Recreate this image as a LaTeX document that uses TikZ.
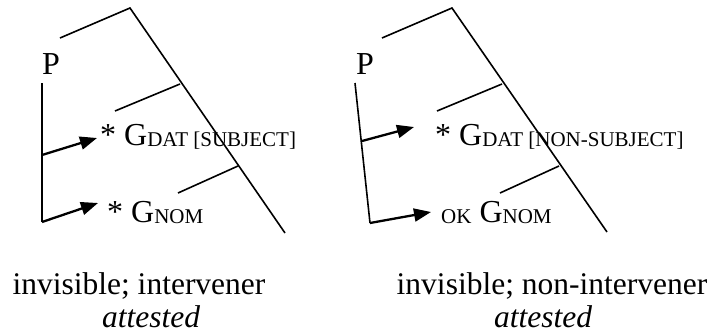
\documentclass[tikz,border=0pt]{standalone}
\usepackage{fontspec}
\setmainfont{Liberation Serif}
\usetikzlibrary{arrows.meta}
\begin{document}
\begin{tikzpicture}[x=1pt,y=-1pt,
  tree/.style={line width=1.6pt},
  probe/.style={line width=2.3pt,-{Triangle[length=17pt,width=13pt]}},
  lbl/.style={inner sep=0pt,font=\fontsize{32}{38}\selectfont},
  captext/.style={inner sep=0pt,anchor=base,font=\fontsize{31.5}{38}\selectfont}]
\newcommand{\subsc}[1]{\raisebox{-1.5pt}{\fontsize{21}{24}\selectfont #1}}
\useasboundingbox (0,0) rectangle (714,335);

% ---------- left tree ----------
\coordinate (La) at (130,8);
\coordinate (Ltop) at (60,38);
\coordinate (Lend) at (285,233);
\coordinate (Lm1) at (180,84);
\coordinate (Lm2) at (115,111);
\coordinate (Ll1) at (238,166);
\coordinate (Ll2) at (178,193);
\draw[tree] (Ltop) -- (La) -- (Lend);
\draw[tree] (Lm1) -- (Lm2);
\draw[tree] (Ll1) -- (Ll2);

\node[lbl,anchor=base west] (LP) at (42,74) {P};
\coordinate (Lv1) at (42,83);
\coordinate (Lv2) at (42,155);
\coordinate (Lv3) at (42,222);
\draw[tree] (Lv1) -- (Lv3);

\node[lbl,anchor=base west] (Ldat) at (100,145) {* G\subsc{DAT [SUBJECT]}};
\node[lbl,anchor=base west] (Lnom) at (107,222) {* G\subsc{NOM}};
\coordinate (Lt1) at (97,138);
\coordinate (Lt2) at (98,203);
\draw[probe] (Lv2) -- (Lt1);
\draw[probe] (Lv3) -- (Lt2);

\node[captext] (Lc1) at (139,294) {invisible; intervener};
\node[captext] (Lc2) at (151,327) {\itshape attested};

% ---------- right tree ----------
\coordinate (Ra) at (452,8);
\coordinate (Rtop) at (382,38);
\coordinate (Rend) at (607,232);
\coordinate (Rm1) at (502,84);
\coordinate (Rm2) at (437,111);
\coordinate (Rl1) at (559,166);
\coordinate (Rl2) at (500,193);
\draw[tree] (Rtop) -- (Ra) -- (Rend);
\draw[tree] (Rm1) -- (Rm2);
\draw[tree] (Rl1) -- (Rl2);

\node[lbl,anchor=base west] (RP) at (356,74) {P};
\coordinate (Rv1) at (355,83);
\coordinate (Rv2) at (362,141);
\coordinate (Rv3) at (370,223);
\draw[tree] (Rv1) -- (Rv3);

\node[lbl,anchor=base west] (Rdat) at (435,145) {* G\subsc{DAT [NON-SUBJECT]}};
\node[lbl,anchor=base west] (Rnom) at (441,222) {\subsc{OK} G\subsc{NOM}};
\coordinate (Rt1) at (414,127);
\coordinate (Rt2) at (431,212);
\draw[probe] (Rv2) -- (Rt1);
\draw[probe] (Rv3) -- (Rt2);

\node[captext] (Rc1) at (552,294) {invisible; non-intervener};
\node[captext] (Rc2) at (543,327) {\itshape attested};
\end{tikzpicture}
\end{document}
